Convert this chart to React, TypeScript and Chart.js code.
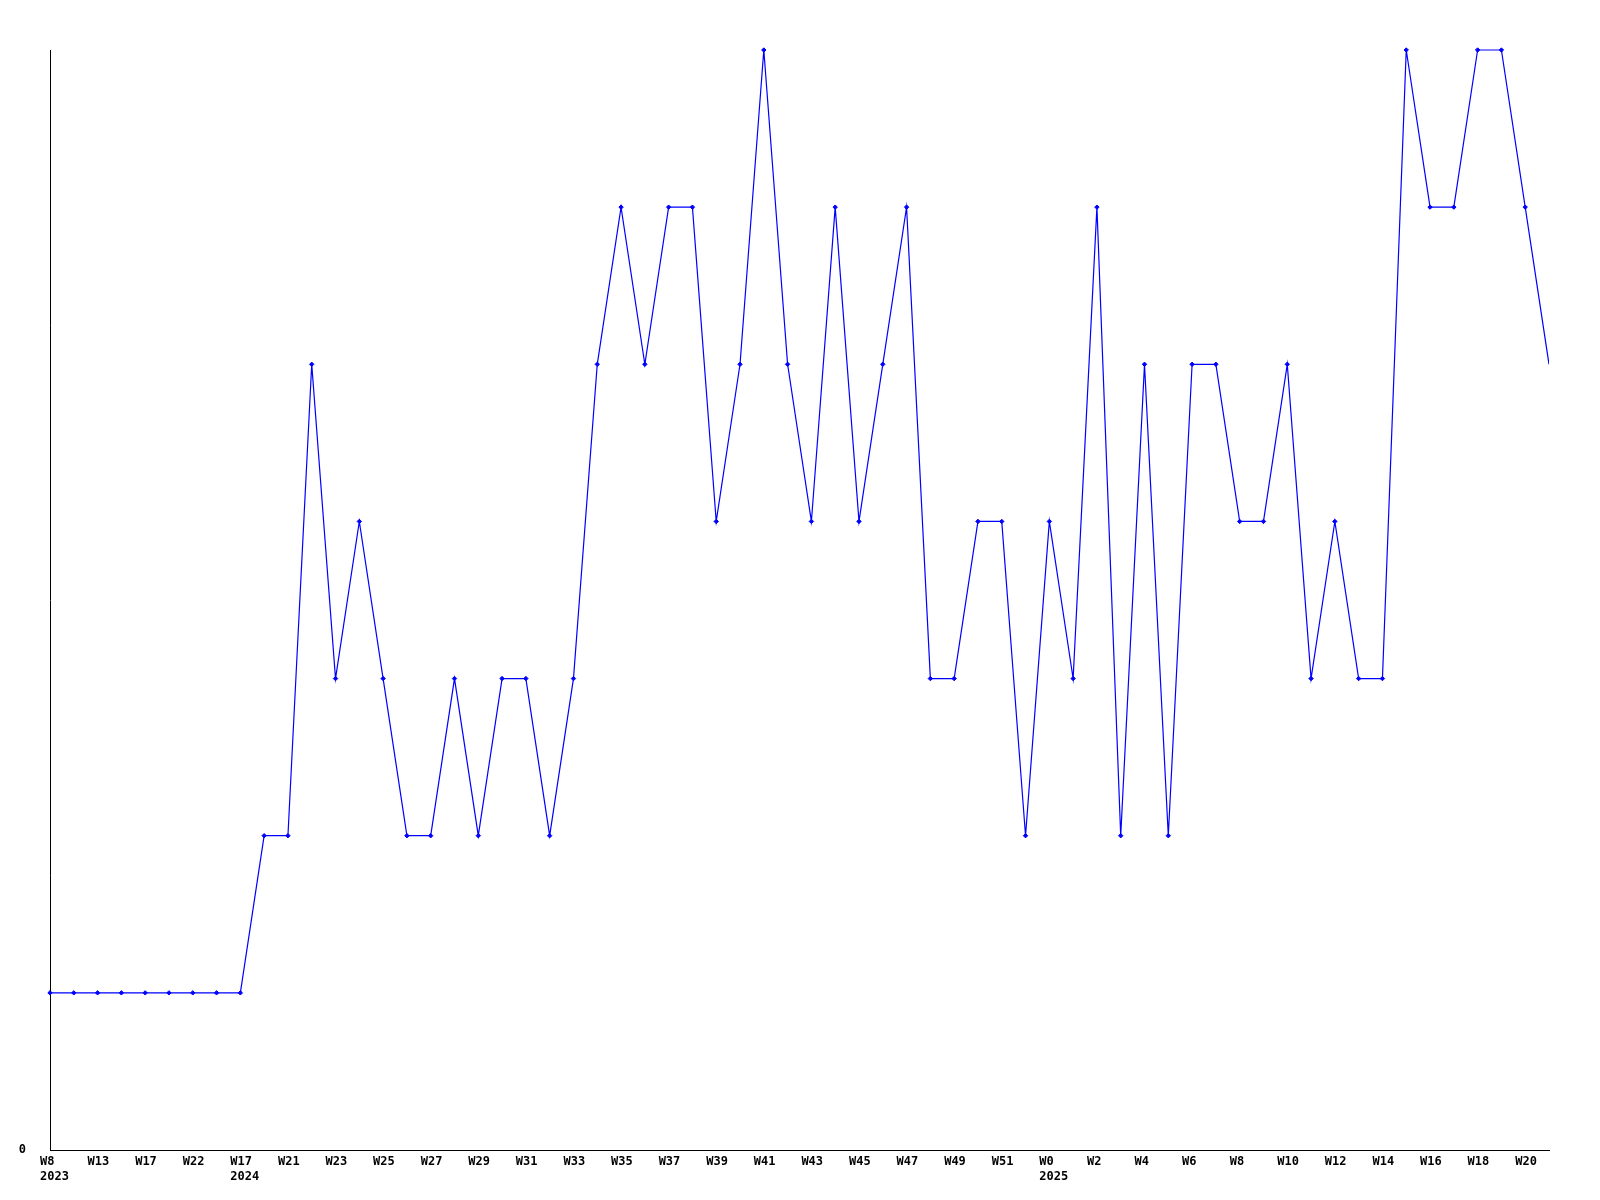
import React, { useEffect, useRef } from "react";
import { Chart, registerables } from "chart.js";

Chart.register(...registerables);

const weeks: string[] = [
  "W8", "W10", "W13", "W15", "W17", "W20", "W22", "W24",
  "W17", "W19", "W21", "W22", "W23", "W24", "W25", "W26", "W27", "W28", "W29", "W30",
  "W31", "W32", "W33", "W34", "W35", "W36", "W37", "W38", "W39", "W40",
  "W41", "W42", "W43", "W44", "W45", "W46", "W47", "W48", "W49", "W50",
  "W51", "W52",
  "W0", "W1", "W2", "W3", "W4", "W5", "W6", "W7", "W8", "W9",
  "W10", "W11", "W12", "W13", "W14", "W15", "W16", "W17", "W18", "W19",
  "W20", "W21",
];

const yearStartIndex: number[] = [0, 8, 42];
const years: string[] = ["2023", "2024", "2025"];

const values: number[] = [
  1, 1, 1, 1, 1, 1, 1, 1, 1,
  2, 2, 5, 3, 4, 3, 2, 2, 3, 2,
  3, 3, 2, 3, 5, 6, 5, 6, 6, 4,
  5, 7, 5, 4, 6, 4, 5, 6, 3, 3,
  4, 4, 2, 4, 3, 6, 2, 5, 2, 5,
  5, 4, 4, 5, 3, 4, 3, 3, 7, 6,
  6, 7, 7, 6, 5,
];

const yMin = 0;
const yMax = 7;

const labels: (string | string[])[] = weeks.map((w, i) => {
  const yi = yearStartIndex.indexOf(i);
  return yi >= 0 ? [w, years[yi]] : w;
});

export default function App() {
  const ref = useRef<HTMLCanvasElement | null>(null);

  useEffect(() => {
    document.body.style.margin = "0";
    if (!ref.current) return;
    const font = { family: "'DejaVu Sans Mono', monospace", size: 12, weight: "bold" as const, lineHeight: 1.27 };
    const last = values.length - 1;
    const chart = new Chart(ref.current, {
      type: "line",
      data: {
        labels,
        datasets: [
          {
            data: values,
            borderColor: "#0000ff",
            backgroundColor: "#0000ff",
            borderWidth: 1.2,
            pointStyle: "rectRot",
            pointRadius: (ctx: any) => (ctx.dataIndex === last ? 0 : 2.2),
            pointBorderWidth: 1,
            pointBorderColor: "#0000ff",
            pointBackgroundColor: "#0000ff",
            tension: 0,
            fill: false,
            clip: { left: 5, top: 5, right: 0, bottom: 5 },
          },
        ],
      },
      options: {
        responsive: false,
        animation: false,
        devicePixelRatio: 1,
        layout: { padding: { left: 0, top: 50, right: 51, bottom: 0 } },
        plugins: { legend: { display: false }, tooltip: { enabled: false } },
        scales: {
          x: {
            offset: false,
            grid: { display: false, drawTicks: false },
            border: { display: true, color: "#000000", width: 1 },
            ticks: {
              autoSkip: false,
              maxRotation: 0,
              minRotation: 0,
              align: "start",
              labelOffset: -10,
              padding: 4,
              color: "#000000",
              font,
              callback: (_v: any, i: number) => (i % 2 === 0 ? labels[i] : ""),
            },
            afterFit: (s: any) => {
              s.height = 50;
            },
          },
          y: {
            min: yMin,
            max: yMax,
            grid: { display: false, drawTicks: false },
            border: { display: true, color: "#000000", width: 1 },
            ticks: {
              stepSize: 1,
              padding: 24,
              color: "#000000",
              font,
              callback: (v: any) => (v === 0 ? "0" : ""),
            },
            afterFit: (s: any) => {
              s.width = 50;
            },
          },
        },
      },
    });
    return () => chart.destroy();
  }, []);

  return (
    <div style={{ width: 1600, height: 1200, background: "#ffffff" }}>
      <canvas ref={ref} width={1600} height={1200} style={{ display: "block" }} />
    </div>
  );
}
